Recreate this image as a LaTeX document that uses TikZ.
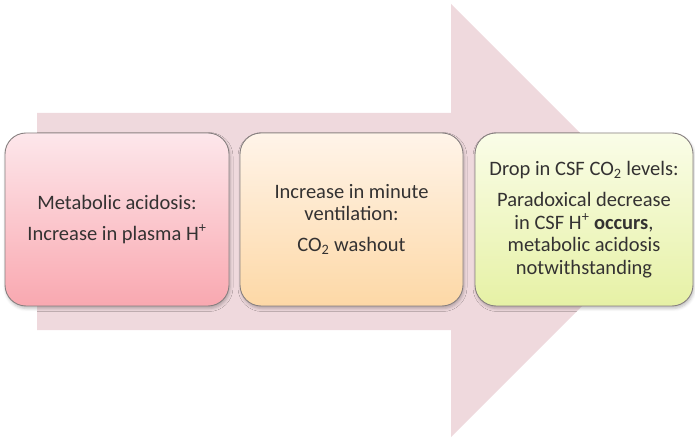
\documentclass[tikz,border=0pt]{standalone}
\usepackage{fontspec}
\setmainfont{Carlito}
\usetikzlibrary{shadows.blur}

\definecolor{arrowfill}{RGB}{239,217,221}
\definecolor{boxline}{RGB}{135,128,128}
\definecolor{txt}{RGB}{52,50,50}
\definecolor{pinktop}{RGB}{253,231,235}
\definecolor{pinkbot}{RGB}{249,168,176}
\definecolor{peachtop}{RGB}{255,244,233}
\definecolor{peachbot}{RGB}{253,216,166}
\definecolor{limetop}{RGB}{250,253,232}
\definecolor{limebot}{RGB}{230,241,165}

\tikzset{
  stagebox/.style={
    draw=boxline, line width=0.9pt, rounded corners=21pt,
    minimum height=173pt, inner sep=0pt, align=center,
    text=txt, font=\fontsize{20.5}{22.5}\selectfont,
    blur shadow={shadow xshift=1pt, shadow yshift=-2.5pt,
                 shadow blur radius=3pt, shadow opacity=25}
  },
  bigarrow/.style={fill=arrowfill, draw=none}
}

\begin{document}
\begin{tikzpicture}[x=1pt, y=1pt]
  \useasboundingbox (0,0) rectangle (695,439);

  % block arrow running behind the three stages
  \path[bigarrow]
    (37,326) -- (451,326) -- (451,435) -- (667.5,218.5)
    -- (451,2) -- (451,109) -- (37,109) -- cycle;

  % the three stages
  \node[stagebox, minimum width=224pt, top color=pinktop, bottom color=pinkbot]
    (acid) at (117,219.5)
    {Metabolic acidosis:\\[8.5pt]
     Increase in plasma H\textsuperscript{+}};

  \node[stagebox, minimum width=223pt, top color=peachtop, bottom color=peachbot]
    (vent) at (351.5,219.5)
    {Increase in minute\\
     ventilation:\\[8.5pt]
     CO\textsubscript{2} washout};

  \node[stagebox, minimum width=218pt, top color=limetop, bottom color=limebot]
    (csf) at (584,219.5)
    {Drop in CSF CO\textsubscript{2} levels:\\[8.5pt]
     Paradoxical decrease\\
     in CSF H\textsuperscript{+} \textbf{occurs},\\
     metabolic acidosis\\
     notwithstanding};
\end{tikzpicture}
\end{document}
